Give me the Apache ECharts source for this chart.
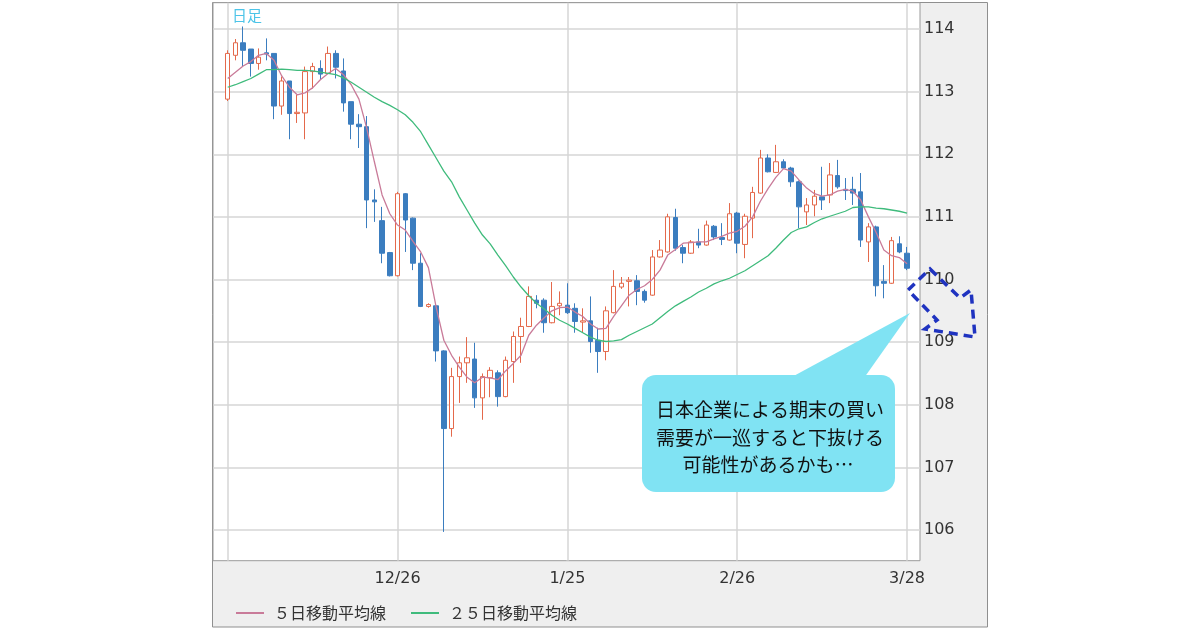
<!DOCTYPE html>
<html><head><meta charset="utf-8">
<script src="https://cdn.jsdelivr.net/npm/echarts@6/dist/echarts.min.js"></script>
<style>html,body{margin:0;padding:0;background:#fff}#c{width:1200px;height:630px}</style>
</head><body><div id="c"></div>
<script>
const dates = ['11/26','11/27','11/28','11/29','11/30','12/3','12/4','12/5','12/6','12/7','12/10','12/11','12/12','12/13','12/14','12/17','12/18','12/19','12/20','12/21','12/24','12/25','12/26','12/27','12/28','12/31','1/1','1/2','1/3','1/4','1/7','1/8','1/9','1/10','1/11','1/14','1/15','1/16','1/17','1/18','1/21','1/22','1/23','1/24','1/25','1/28','1/29','1/30','1/31','2/1','2/4','2/5','2/6','2/7','2/8','2/11','2/12','2/13','2/14','2/15','2/18','2/19','2/20','2/21','2/22','2/25','2/26','2/27','2/28','3/1','3/4','3/5','3/6','3/7','3/8','3/11','3/12','3/13','3/14','3/15','3/18','3/19','3/20','3/21','3/22','3/25','3/26','3/27','3/28'];
const gridDates = ['11/26','12/26','1/25','2/26','3/28'];
const tickLabels = ['12/26','1/25','2/26','3/28'];
const yTicks = [106,107,108,109,110,111,112,113,114];

const open = [112.88,113.58,113.78,113.68,113.45,113.62,113.61,112.77,113.17,112.65,
112.66,113.32,113.37,113.29,113.61,113.33,112.84,112.48,112.44,111.27,
110.94,110.43,110.06,111.37,110.98,110.26,109.57,109.58,108.86,107.62,
108.45,108.67,108.73,108.11,108.43,108.51,108.13,108.69,109.09,109.25,
109.67,109.67,109.31,109.58,109.59,109.54,109.32,109.34,109.03,108.85,
109.47,109.88,109.97,109.98,109.81,109.75,110.36,110.44,110.99,110.51,
110.42,110.60,110.55,110.85,110.67,110.63,111.06,110.56,110.98,111.38,
111.94,111.71,111.88,111.78,111.56,111.08,111.19,111.32,111.35,111.66,
111.44,111.44,111.40,110.60,110.84,109.97,109.94,110.57,110.42];
const close = [113.61,113.78,113.66,113.45,113.55,113.60,112.77,113.17,112.65,112.67,
113.32,113.40,113.28,113.61,113.39,112.82,112.48,112.44,111.27,111.24,
110.42,110.06,111.37,110.95,110.26,109.57,109.60,108.86,107.62,108.45,
108.67,108.75,108.11,108.45,108.55,108.13,108.71,109.09,109.25,109.73,
109.62,109.31,109.57,109.62,109.47,109.33,109.34,109.01,108.85,109.50,
109.89,109.94,109.99,109.81,109.67,110.36,110.47,111.00,110.50,110.42,
110.60,110.55,110.87,110.68,110.64,111.05,110.58,111.01,111.39,111.94,
111.72,111.88,111.78,111.56,111.16,111.19,111.33,111.27,111.67,111.48,
111.42,111.38,110.63,110.84,109.90,109.94,110.62,110.44,110.18];
const low = [112.85,113.50,113.40,113.24,113.35,113.50,112.56,112.63,112.24,112.50,
112.24,113.05,113.19,113.28,113.21,112.68,112.24,112.10,110.82,110.92,
110.26,110.05,110.05,110.44,110.15,109.56,109.55,108.69,105.97,107.49,
108.03,108.35,107.95,107.76,108.12,107.97,108.12,108.35,108.67,109.24,
109.54,109.15,109.30,109.43,109.45,109.15,109.15,108.83,108.51,108.71,
109.46,109.85,109.57,109.59,109.63,109.74,110.35,110.43,110.46,110.26,
110.41,110.50,110.54,110.63,110.55,110.62,110.42,110.34,110.66,111.37,
111.71,111.70,111.77,111.48,110.82,110.87,111.01,111.11,111.22,111.45,
111.27,111.19,110.52,110.28,109.73,109.70,109.93,110.42,110.15];
const high = [113.66,113.84,114.04,113.68,113.69,113.85,113.61,113.24,113.17,112.95,
113.40,113.46,113.50,113.72,113.66,113.53,112.84,112.64,112.61,111.44,
111.16,110.44,111.40,111.38,110.99,110.42,109.62,109.59,108.87,108.59,
108.77,109.08,108.99,108.50,108.60,108.55,108.77,109.17,109.39,109.89,
109.75,109.70,109.96,109.81,109.94,109.62,109.54,109.73,109.23,109.57,
110.15,110.04,110.04,110.07,109.84,110.47,110.63,111.05,111.13,110.55,
110.63,110.81,110.94,110.87,110.90,111.22,111.08,111.05,111.48,112.07,
112.00,112.15,111.92,111.80,111.58,111.30,111.43,111.80,111.86,111.91,
111.62,111.64,111.70,110.90,110.86,110.23,110.68,110.69,110.52];
const ma5 = [113.21,113.31,113.41,113.48,113.58,113.61,113.50,113.25,113.07,112.95,
112.98,113.06,113.19,113.29,113.37,113.27,113.11,112.88,112.42,111.88,
111.35,111.05,110.87,110.79,110.61,110.44,110.19,109.56,109.03,108.79,
108.60,108.44,108.35,108.44,108.43,108.40,108.54,108.66,108.79,109.11,
109.27,109.39,109.50,109.55,109.56,109.48,109.41,109.29,109.21,109.22,
109.41,109.58,109.75,109.84,109.90,110.00,110.15,110.39,110.48,110.58,
110.59,110.60,110.60,110.65,110.69,110.74,110.77,110.85,111.00,111.25,
111.45,111.63,111.77,111.73,111.59,111.46,111.37,111.33,111.35,111.41,
111.44,111.41,111.27,111.00,110.75,110.47,110.38,110.35,110.25];
const ma25 = [113.07,113.11,113.16,113.21,113.28,113.35,113.35,113.36,113.35,113.34,
113.34,113.33,113.31,113.29,113.27,113.22,113.15,113.07,112.99,112.91,
112.84,112.78,112.71,112.63,112.51,112.36,112.15,111.94,111.73,111.56,
111.32,111.11,110.90,110.71,110.57,110.39,110.22,110.04,109.88,109.74,
109.62,109.53,109.43,109.35,109.29,109.22,109.15,109.08,109.03,109.01,
109.02,109.04,109.11,109.17,109.23,109.29,109.39,109.49,109.58,109.65,
109.72,109.80,109.86,109.93,109.98,110.02,110.08,110.14,110.22,110.30,
110.38,110.50,110.63,110.75,110.81,110.84,110.91,110.97,111.01,111.05,
111.09,111.15,111.16,111.16,111.14,111.13,111.11,111.09,111.06];
const seriesNames = ['５日移動平均線','２５日移動平均線'];
const noteLines = ['日本企業による期末の買い','需要が一巡すると下抜ける','可能性があるかも…'];
const periodLabel = '日足';

const gridPos = gridDates.map(d => dates.indexOf(d));
const labelPos = tickLabels.map(d => dates.indexOf(d));
const candleData = open.map((o, i) => [i, o, close[i], low[i], high[i]]);

const gridColor = '#d6d6d6';
const option = {
  animation: false,
  backgroundColor: '#ffffff',
  grid: { left: 213, right: 280, top: 2.7, bottom: 69.3, show: true, backgroundColor: '#ffffff', borderColor: '#9a9a9a', borderWidth: 1 },
  xAxis: {
    type: 'value', min: -1.904, max: 89.68,
    axisLine: { show: false },
    axisTick: { show: false, customValues: gridPos },
    axisLabel: { customValues: labelPos, formatter: v => dates[Math.round(v)], margin: 10, fontSize: 16, color: '#333', fontFamily: 'DejaVu Sans' },
    splitLine: { show: true, lineStyle: { color: gridColor, width: 1.5 } }
  },
  yAxis: {
    type: 'value', position: 'right', min: 105.51, max: 114.42, scale: true,
    axisLine: { show: false },
    axisTick: { show: false, customValues: yTicks },
    axisLabel: { customValues: yTicks, margin: 4, fontSize: 16, color: '#333', fontFamily: 'DejaVu Sans' },
    splitLine: { show: true, lineStyle: { color: gridColor, width: 1.5 } }
  },
  legend: {
    left: 231, top: 600, icon: 'rect', itemWidth: 28, itemHeight: 2, itemGap: 25,
    textStyle: { fontSize: 16, color: '#333', fontFamily: 'Noto Sans CJK JP', padding: [0,0,0,5] },
    data: seriesNames
  },
  series: [
    {
      type: 'candlestick', data: candleData, encode: { x: 0, y: [1,2,3,4] }, barWidth: 5,
      itemStyle: { color: '#ffffff', color0: '#3b7dbf', borderColor: '#e4694b', borderColor0: '#3b7dbf', borderWidth: 1 }
    },
    {
      type: 'line', name: seriesNames[0], data: ma5.map((v, i) => [i, v]), showSymbol: false, symbol: 'none', z: 3,
      itemStyle: { color: '#c97b99' }, lineStyle: { color: '#c97b99', width: 1.3 }
    },
    {
      type: 'line', name: seriesNames[1], data: ma25.map((v, i) => [i, v]), showSymbol: false, symbol: 'none', z: 3,
      itemStyle: { color: '#3fbb7c' }, lineStyle: { color: '#3fbb7c', width: 1.3 }
    }
  ],
  graphic: [
    { type: 'rect', z: -10, shape: { x: 212.5, y: 2.5, width: 775, height: 624.5 }, style: { fill: '#efefef', stroke: '#8f8f8f', lineWidth: 1 } },
    { type: 'text', z: 50, style: { text: periodLabel, x: 232, y: 8, fill: '#4cc4e8', font: '15px "Noto Sans CJK JP"' } },
    { type: 'polygon', z: 50, shape: { points: [[790,378],[864,378],[910,313]] }, style: { fill: '#80e3f3' } },
    { type: 'rect', z: 50, shape: { x: 642, y: 375, width: 253, height: 117, r: 14 }, style: { fill: '#80e3f3' } },
    { type: 'text', z: 51, style: { text: noteLines[0], x: 770, y: 410, textAlign: 'center', textVerticalAlign: 'middle', fill: '#111', font: '19px "Noto Sans CJK JP"' } },
    { type: 'text', z: 51, style: { text: noteLines[1], x: 770, y: 437.5, textAlign: 'center', textVerticalAlign: 'middle', fill: '#111', font: '19px "Noto Sans CJK JP"' } },
    { type: 'text', z: 51, style: { text: noteLines[2], x: 768, y: 465, textAlign: 'center', textVerticalAlign: 'middle', fill: '#111', font: '19px "Noto Sans CJK JP"' } },
    { type: 'polygon', z: 52, shape: { points: [[930,269],[960,298],[971,290],[975,337],[925,329],[937,320],[908,290]] }, style: { fill: 'none', stroke: '#1f33c0', lineWidth: 3.5, lineDash: [9, 6] } }
  ]
};
const chart = echarts.init(document.getElementById('c'));
chart.setOption(option);
</script></body></html>
